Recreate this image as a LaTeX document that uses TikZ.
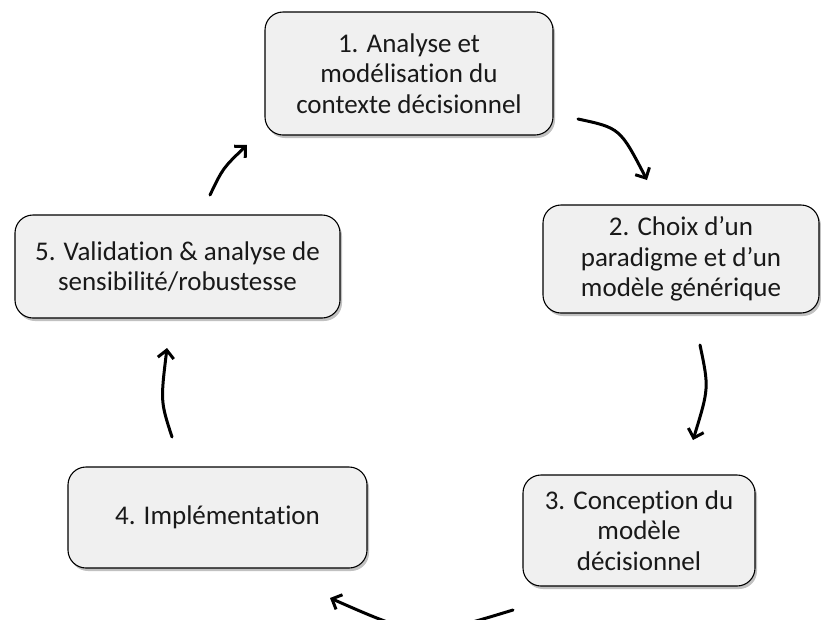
\documentclass[tikz,border=0pt]{standalone}
\usepackage{fontspec}
\setmainfont{Carlito}[Ligatures=NoCommon]
\usetikzlibrary{arrows.meta,shadows}
\begin{document}
\begin{tikzpicture}[x=1pt,y=-1pt,
  stage/.style={draw=black, line width=1.1pt, fill=black!6, rounded corners=18pt,
    align=center, inner sep=0pt, text=black!90,
    font=\fontsize{27}{30.5}\selectfont,
    drop shadow={shadow xshift=2pt, shadow yshift=-3pt, opacity=0.35, fill=black!70}},
  cyc/.style={line width=3pt, line cap=round,
    -{Straight Barb[length=8pt, width=16pt, line width=3pt]}}]
\useasboundingbox (0,0) rectangle (821,619);
\clip (0,0) rectangle (821,619);
\node[stage, minimum width=288pt, minimum height=123pt] (s1) at (409,73.5)
  {1. Analyse et\\modélisation du\\contexte décisionnel};
\node[stage, minimum width=276pt, minimum height=108pt] (s2) at (681,259)
  {2. Choix d’un\\paradigme et d’un\\modèle générique};
\node[stage, minimum width=232pt, minimum height=111pt] (s3) at (639,530.5)
  {3. Conception du\\modèle\\décisionnel};
\node[stage, minimum width=299pt, minimum height=101pt] (s4) at (217.5,517.5)
  {4. Implémentation};
\node[stage, minimum width=325pt, minimum height=103pt] (s5) at (177.5,266.5)
  {5. Validation \& analyse de\\sensibilité/robustesse};
% arrow end points
\coordinate (a1s) at (578,119);  \coordinate (a1e) at (647,180);
\coordinate (a2s) at (700,345);  \coordinate (a2e) at (693,440);
\coordinate (a3s) at (513,610);  \coordinate (a3e) at (330,598);
\coordinate (a4s) at (172,437);  \coordinate (a4e) at (167,348);
\coordinate (a5s) at (210,195);  \coordinate (a5e) at (247,145);
\draw[cyc] (a1s) .. controls (620,128) .. (a1e);
\draw[cyc] (a2s) .. controls (709,388) .. (a2e);
\draw[cyc] (a3s) .. controls (421,638) .. (a3e);
\draw[cyc] (a4s) .. controls (160.5,401.5) .. (a4e);
\draw[cyc] (a5s) .. controls (223,168) .. (a5e);
\end{tikzpicture}
\end{document}
